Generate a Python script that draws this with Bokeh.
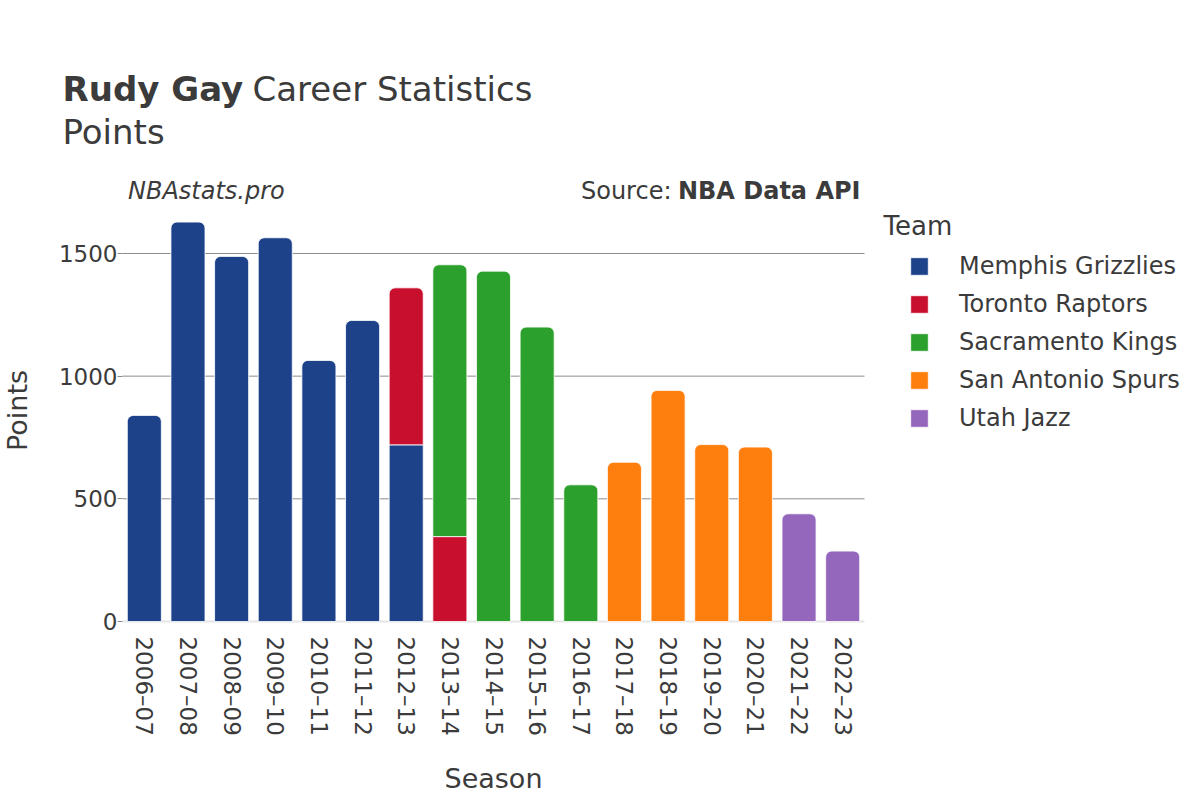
import math
from bokeh.plotting import figure
from bokeh.models import (ColumnDataSource, Range1d, Label, Legend, LegendItem,
                          FixedTicker)
from bokeh.embed import file_html
from bokeh.resources import INLINE

seasons = ["2006–07", "2007–08", "2008–09", "2009–10", "2010–11", "2011–12",
           "2012–13", "2013–14", "2014–15", "2015–16", "2016–17", "2017–18",
           "2018–19", "2019–20", "2020–21", "2021–22", "2022–23"]
teams = ["Memphis Grizzlies", "Toronto Raptors", "Sacramento Kings",
         "San Antonio Spurs", "Utah Jazz"]
team_colors = ["#1d428a", "#c8102e", "#2ca02c", "#ff7f0e", "#9467bd"]

memphis =    [840, 1628, 1488, 1564, 1064, 1227, 720, 0, 0, 0, 0, 0, 0, 0, 0, 0, 0]
toronto =    [0, 0, 0, 0, 0, 0, 640, 346, 0, 0, 0, 0, 0, 0, 0, 0, 0]
sacramento = [0, 0, 0, 0, 0, 0, 0, 1108, 1428, 1200, 557, 0, 0, 0, 0, 0, 0]
spurs =      [0, 0, 0, 0, 0, 0, 0, 0, 0, 0, 0, 649, 942, 721, 711, 0, 0]
utah =       [0, 0, 0, 0, 0, 0, 0, 0, 0, 0, 0, 0, 0, 0, 0, 439, 287]
series = [memphis, toronto, sacramento, spurs, utah]

y_ticks = [0, 500, 1000, 1500]
grid_ticks = [500, 1000, 1500]
y_max = 1720

FONT = "DejaVu Sans"
TXT = "#3b3b3b"

W, H = 1200, 800
# plot-area placement inside the canvas (pixels)
left, right, top, bottom = 122, 864, 199, 621
n = len(seasons)
band = (right - left) / n
x0 = -0.5 - left / band
x1 = n - 0.5 + (W - right) / band
ppu = (bottom - top) / y_max
y0 = -(H - bottom) / ppu
y1 = bottom / ppu

p = figure(x_range=Range1d(x0, x1), y_range=Range1d(y0, y1), width=W, height=H,
           output_backend="svg", toolbar_location=None, title=None,
           min_border=0)
p.outline_line_color = None
p.background_fill_color = "white"
p.border_fill_color = "white"
p.xgrid.visible = False
p.ygrid.visible = False

xs = list(range(n))

# grid lines limited to the category span
p.segment(x0=[-0.5] * len(grid_ticks), x1=[n - 0.5] * len(grid_ticks),
          y0=grid_ticks, y1=grid_ticks, line_color="#8c8c8c", line_width=1,
          level="underlay")
p.segment(x0=[-0.5], x1=[n - 0.5], y0=[0], y1=[0], line_color="#e6e6e6",
          line_width=2, level="underlay")

# stacked bars
last_team = []
for i in range(n):
    lt = 0
    for t in range(len(teams)):
        if series[t][i] > 0:
            lt = t
    last_team.append(lt)

bottoms = [0] * n
legend_items = []
for t, (team, col) in enumerate(zip(teams, team_colors)):
    top_d = dict(x=[], bottom=[], top=[])
    low_d = dict(x=[], bottom=[], top=[])
    for i in range(n):
        v = series[t][i]
        if v > 0:
            d = top_d if last_team[i] == t else low_d
            d["x"].append(xs[i])
            d["bottom"].append(bottoms[i])
            d["top"].append(bottoms[i] + v)
            bottoms[i] += v
    r_top = p.vbar(x="x", bottom="bottom", top="top", width=0.78,
                   source=ColumnDataSource(top_d), fill_color=col,
                   line_color="white", line_width=0.8,
                   border_radius=(6, 6, 0, 0))
    p.vbar(x="x", bottom="bottom", top="top", width=0.78,
           source=ColumnDataSource(low_d), fill_color=col,
           line_color="white", line_width=0.8)
    legend_items.append(LegendItem(label=team, renderers=[r_top]))

# axes
p.yaxis.fixed_location = -0.5
p.yaxis.bounds = (0, y_max)
p.yaxis.ticker = FixedTicker(ticks=y_ticks)
p.yaxis.axis_line_color = None
p.yaxis.major_tick_out = 5
p.yaxis.major_tick_in = 0
p.yaxis.major_tick_line_color = "#8c8c8c"
p.yaxis.minor_tick_line_color = None
p.yaxis.major_label_standoff = 0
p.yaxis.major_label_text_font = FONT
p.yaxis.major_label_text_font_size = "23px"
p.yaxis.major_label_text_color = TXT
p.yaxis.axis_label = "Points"
p.yaxis.axis_label_text_font = FONT
p.yaxis.axis_label_text_font_size = "27px"
p.yaxis.axis_label_text_font_style = "normal"
p.yaxis.axis_label_text_color = TXT
p.yaxis.axis_label_standoff = 23

p.xaxis.fixed_location = 0
p.xaxis.bounds = (-0.5, n - 0.5)
p.xaxis.ticker = FixedTicker(ticks=xs)
p.xaxis.major_label_overrides = {i: s for i, s in zip(xs, seasons)}
p.xaxis.axis_line_color = None
p.xaxis.major_tick_line_color = None
p.xaxis.minor_tick_line_color = None
p.xaxis.major_label_orientation = -math.pi / 2
p.xaxis.major_label_standoff = 9
p.xaxis.major_label_text_font = FONT
p.xaxis.major_label_text_font_size = "23px"
p.xaxis.major_label_text_color = TXT
p.xaxis.axis_label = "Season"
p.xaxis.axis_label_text_font = FONT
p.xaxis.axis_label_text_font_size = "27px"
p.xaxis.axis_label_text_font_style = "normal"
p.xaxis.axis_label_text_color = TXT
p.xaxis.axis_label_standoff = 24

# texts (screen units, origin bottom-left of the canvas)
def lab(text, x, y, size, style="normal", align="left"):
    p.add_layout(Label(text=text, x=x, y=y, x_units="screen", y_units="screen",
                       text_font=FONT, text_font_size=size,
                       text_font_style=style, text_color=TXT,
                       text_align=align, text_baseline="alphabetic"))

lab("Rudy Gay", 62, 712, "34px", "bold")
lab("Career Statistics", 252, 712, "34px")
lab("Points", 62, 668.5, "34px")
lab("NBAstats.pro", 127.5, 610, "24px", "italic")
lab("Source:", 671, 610, "24px", align="right")
lab("NBA Data API", 860, 610, "24px", "bold", align="right")
lab("Team", 883, 575, "26px")

legend = Legend(items=legend_items, location=(908, 368))
legend.glyph_width = 22
legend.glyph_height = 22
legend.label_standoff = 29
legend.label_text_font = FONT
legend.label_text_font_size = "24px"
legend.label_text_color = TXT
legend.label_height = 22
legend.spacing = 10
legend.padding = 0
legend.margin = 0
legend.border_line_color = None
legend.background_fill_alpha = 0
p.add_layout(legend)

open("out.html", "w").write(file_html(p, INLINE))
